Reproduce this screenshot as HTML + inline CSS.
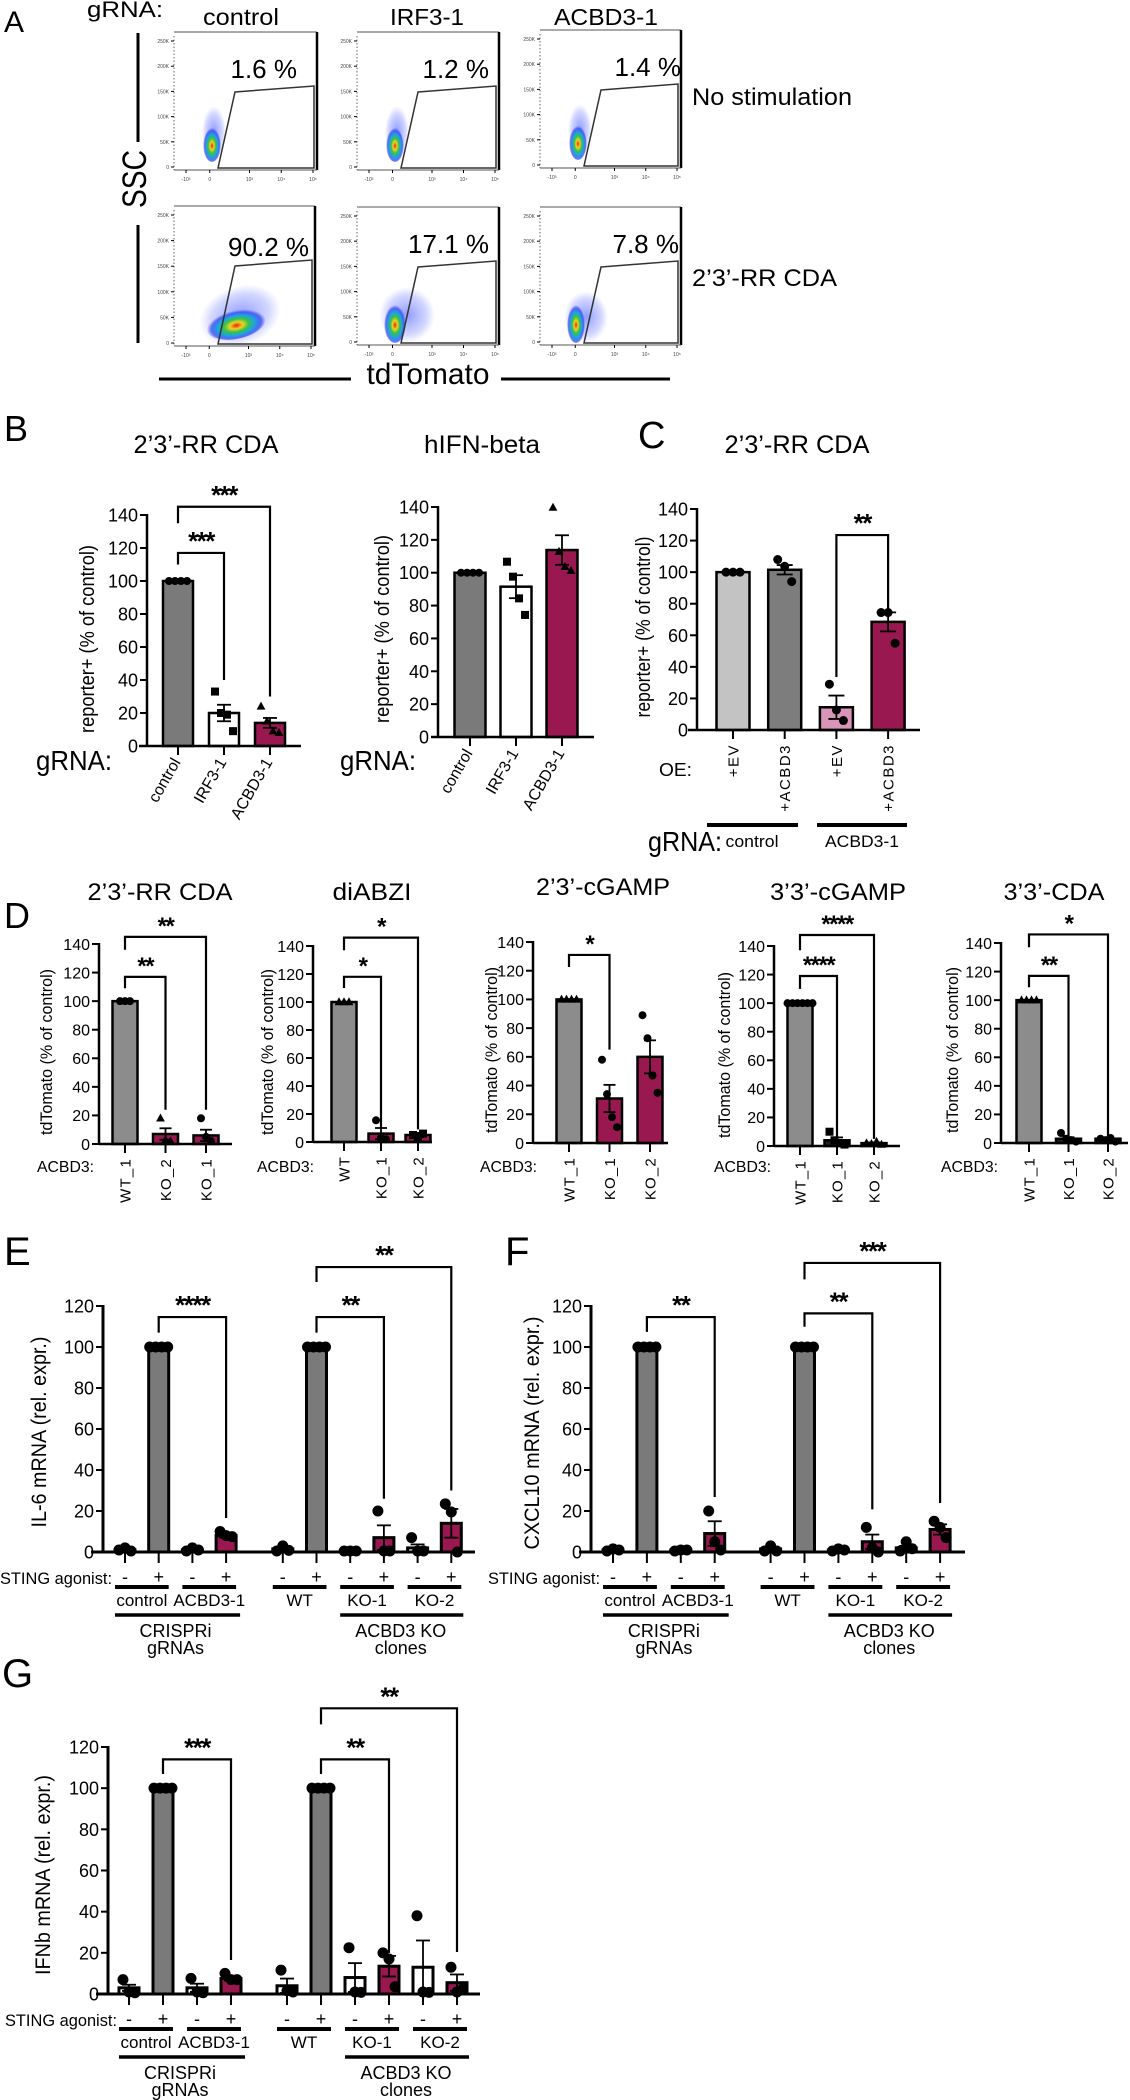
<!DOCTYPE html>
<html><head><meta charset="utf-8">
<style>
html,body{margin:0;padding:0;background:#fff;}
svg{display:block;font-family:"Liberation Sans",Arial,sans-serif;}
</style></head>
<body>
<svg id="fig" xmlns="http://www.w3.org/2000/svg" width="1130" height="2100" viewBox="0 0 1130 2100">
<defs>
<radialGradient id="dens" cx="50%" cy="55%" r="50%">
<stop offset="0" stop-color="#e8221c"/>
<stop offset="0.22" stop-color="#f2d21e"/>
<stop offset="0.42" stop-color="#38c24a"/>
<stop offset="0.65" stop-color="#1ea0e6"/>
<stop offset="0.85" stop-color="#2a3cf0" stop-opacity="0.7"/>
<stop offset="1" stop-color="#3040ff" stop-opacity="0"/>
</radialGradient>
<radialGradient id="halo" cx="50%" cy="50%" r="50%">
<stop offset="0" stop-color="#3348ff" stop-opacity="0.55"/>
<stop offset="0.7" stop-color="#4a5cff" stop-opacity="0.25"/>
<stop offset="1" stop-color="#6070ff" stop-opacity="0"/>
</radialGradient>
</defs>
</svg>
<script>
// ---------------- DATA ----------------
const yTicks140=[0,20,40,60,80,100,120,140];
const yTicks120=[0,20,40,60,80,100,120];

const b1Categories=['control','IRF3-1','ACBD3-1'];
const b1Means=[100,20,14];
const b1Sem=[0,5,3];
const b1Points=[[100,100,100,100],[33,20,19,9],[24,15,9,8]];

const b2Categories=['control','IRF3-1','ACBD3-1'];
const b2Means=[100,91.5,113.8];
const b2Sem=[0,7,9];
const b2Points=[[100,100,100,100],[106.7,97.6,84.4,74.3],[139.7,112.8,103.6,101.2]];

const cCategories=['+EV','+ACBD3','+EV','+ACBD3'];
const cMeans=[100,101.5,14.4,68.5];
const cSem=[0,3,7.4,6];
const cPoints=[[100,100,100],[108,103.7,94],[29,12.7,6],[74.4,74.4,55]];

const d1Categories=['WT_1','KO_2','KO_1'];
const d1Means=[100,7,6];
const d1Sem=[0,4,4];
const d1Points=[[100,100,100],[18,3,2],[18,5,2]];

const d2Categories=['WT','KO_1','KO_2'];
const d2Means=[100,6,5];
const d2Sem=[0,4,1.5];
const d2Points=[[100,100,100],[15.5,3,2],[5,3.6,6]];

const d3Categories=['WT_1','KO_1','KO_2'];
const d3Means=[100,31,60];
const d3Sem=[0,9.5,11.5];
const d3Points=[[100,100,100,100],[58,34,18,11],[89,73,47,35]];

const d4Categories=['WT_1','KO_1','KO_2'];
const d4Means=[100,4,2];
const d4Sem=[0,2,0.5];
const d4Points=[[100,100,100,100,100,100],[10,4,2,1],[2,1.5,3,1]];

const d5Categories=['WT_1','KO_1','KO_2'];
const d5Means=[100,3,3];
const d5Sem=[0,1,0.5];
const d5Points=[[100,100,100,100],[7,3,2,1],[3,2,3.5,1]];

const qSigns=['-','+','-','+','-','+','-','+','-','+'];
const qGroups=['control','ACBD3-1','WT','KO-1','KO-2'];

const eMeans=[1,100,1,8,1.5,100,0.5,7,2,14];
const eSem=[0.5,0,0.5,1,1,0,0,6,1.7,7];
const ePoints=[[1,2,0.5],[100,100,100,100],[0.5,2,1],[10,8,7.5],[0.5,3,0.8],[100,100,100,100],[0.5,0.5,0.5],[20,0.5,0.5],[7,0.5,0.5],[23.5,19.5,0]];

const fMeans=[1,100,1,9,1.5,100,1,5,2,11];
const fSem=[0.3,0,0.3,6,1,0,0.3,3.5,1,2.5];
const fPoints=[[0.5,1.5,1],[100,100,100,100],[0.5,1,1],[20,5,1],[0.5,3,0.5],[100,100,100,100],[0.5,1.5,1],[12,2,0],[0.5,5,1.6],[15,12,7]];

const gMeans=[3,100,3,7.5,4,100,8,13.5,13,5.5];
const gSem=[1.5,0,2,1,3.5,0,7,5,13,4];
const gPoints=[[7,1,0.6],[100,100,100,100],[7.6,1,0.6],[10,7,7],[11.6,1.6,1],[100,100,100,100],[22.5,1,0.8],[20,17,3.5],[38,1,0.8],[13,1,2.5]];

// ---------------- HELPERS ----------------
const NS='http://www.w3.org/2000/svg';
const svg=document.getElementById('fig');
function mk(tag,attrs,name,parent){
  const el=document.createElementNS(NS,tag);
  for(const k in attrs) el.setAttribute(k,attrs[k]);
  
  
  (parent||svg).appendChild(el);
  return el;
}
function txt(x,y,s,size,name,opts,parent){
  opts=opts||{};
  const a={x:x,y:y,'font-size':size,fill:opts.fill||'#000'};
  if(opts.anchor) a['text-anchor']=opts.anchor;
  if(opts.weight) a['font-weight']=opts.weight;
  if(opts.len){a.textLength=opts.len;a.lengthAdjust='spacingAndGlyphs';}
  if(opts.rot!==undefined) a.transform='rotate('+opts.rot+' '+x+' '+y+')';
  if(opts.ls) a['letter-spacing']=opts.ls;
  const t=mk('text',a,name,parent);
  t.textContent=s;
  return t;
}
function line(x1,y1,x2,y2,w,name,parent,color){
  return mk('line',{x1:x1,y1:y1,x2:x2,y2:y2,stroke:color||'#000','stroke-width':w},name,parent);
}
function marker(type,x,y,r,name,parent){
  if(type==='sq') return mk('rect',{x:x-r,y:y-r,width:2*r,height:2*r,fill:'#000'},name,parent);
  if(type==='tri') return mk('polygon',{points:(x)+','+(y-r*1.2)+' '+(x-r*1.1)+','+(y+r*0.8)+' '+(x+r*1.1)+','+(y+r*0.8),fill:'#000'},name,parent);
  return mk('circle',{cx:x,cy:y,r:r,fill:'#000'},name,parent);
}

function barChart(c){
  const g=mk('g',{},c.name);
  const k=(c.y0-c.yTop)/c.yMax;
  const Y=v=>c.y0-v*k;
  const X=i=>c.xStart+i*c.step+(c.gapAfter!==undefined&&i>c.gapAfter?c.gap:0);
  // bars
  c.means.forEach((m,i)=>{
    const x=X(i);
    mk('rect',{x:x-c.barW/2,y:Y(m),width:c.barW,height:c.y0-Y(m),fill:c.colors[i],stroke:'#000','stroke-width':c.sw||2.5},'bar-'+c.cats[i].toLowerCase().replace(/[^a-z0-9]+/g,'-'),g);
  });
  // error bars
  c.means.forEach((m,i)=>{
    if(!c.sem[i]) return;
    const x=X(i);
    line(x,Y(m-c.sem[i]),x,Y(m+c.sem[i]),1.8,'error-bar',g);
    line(x-c.cap,Y(m+c.sem[i]),x+c.cap,Y(m+c.sem[i]),1.8,'error-cap',g);
    line(x-c.cap,Y(m-c.sem[i]),x+c.cap,Y(m-c.sem[i]),1.8,'error-cap',g);
  });
  // points
  c.points.forEach((arr,i)=>{
    const x=X(i);
    const n=arr.length;
    arr.forEach((v,j)=>{
      const px=x+(j-(n-1)/2)*c.jit;
      marker(c.markers?c.markers[i]:'c',px,Y(v),c.pr,'data-point',g);
    });
  });
  // axes
  line(c.axisX,c.y0+1,c.axisX,Y(c.yMax)-1,c.aw||2.5,'y-axis',g);
  line(c.axisX-(c.xLeft||0),c.y0,c.xEnd,c.y0,c.aw||2.5,'x-axis',g);
  c.ticks.forEach(t=>{
    line(c.axisX-7,Y(t),c.axisX,Y(t),2,'y-tick',g);
    txt(c.axisX-9,Y(t)+c.tf*0.36,String(t),c.tf,'y-tick-label',{anchor:'end'},g);
  });
  c.means.forEach((m,i)=>{ line(X(i),c.y0,X(i),c.y0+(c.tl||9),2,'x-tick',g); });
  // category labels
  if(c.labelMode==='rot60'){
    c.cats.forEach((s,i)=>txt(X(i)+3,c.y0+16,s,c.lf,'x-tick-label',{anchor:'end',rot:-60},g));
  } else if(c.labelMode==='rot90'){
    c.cats.forEach((s,i)=>txt(X(i)+c.lf*0.36,c.y0+14,s,c.lf,'x-tick-label',{anchor:'end',rot:-90,ls:c.ls||1},g));
  }
  // brackets
  (c.brackets||[]).forEach(b=>{
    const xa=X(b[0]), xb=X(b[1]);
    mk('polyline',{points:xa+','+Y(b[3])+' '+xa+','+Y(b[2])+' '+xb+','+Y(b[2])+' '+xb+','+Y(b[4]),fill:'none',stroke:'#000','stroke-width':2.2},'significance-bracket',g);
    txt((xa+xb)/2,Y(b[2])-3,b[5],c.sf||26,'significance-stars',{anchor:'middle',weight:'bold',ls:-1.5},g);
  });
  // y title
  if(c.ytitle) txt(c.ytX,c.ytY,c.ytitle,c.ytF,'y-axis-title',{anchor:'middle',rot:-90,len:c.ytLen},g);
  c.X=X; c.Y=Y; c.g=g;
  return c;
}

// ---------------- PANEL A ----------------
txt(4,32,'A',30,'panel-label-a');
txt(87,17,'gRNA:',22,'grna-label-a',{len:76});
txt(241,25,'control',23,'column-title-control',{anchor:'middle',len:76});
txt(427,25,'IRF3-1',23,'column-title-irf3',{anchor:'middle',len:74});
txt(606,25,'ACBD3-1',23,'column-title-acbd3',{anchor:'middle',len:104});
txt(692,105,'No stimulation',24,'row-label-no-stim',{len:160});
txt(692,286,'2\u20193\u2019-RR CDA',24,'row-label-rr-cda',{len:145});
line(138,33,138,142,3,'ssc-axis-line-top');
txt(146,179,'SSC',34,'ssc-axis-title',{anchor:'middle',rot:-90,len:58});
line(138,225,138,343,3,'ssc-axis-line-bottom');
txt(428,384,'tdTomato',30,'tdtomato-axis-title',{anchor:'middle',len:123});
line(159,379,351,379,3,'tdtomato-line-left');
line(501,379,670,379,3,'tdtomato-line-right');

const flowBoxes=[
 {l:174,t:32,r:317,b:170,pct:'1.6 %',pe:297,type:'low'},
 {l:357,t:32,r:499,b:170,pct:'1.2 %',pe:489,type:'low'},
 {l:540,t:30,r:681,b:168,pct:'1.4 %',pe:681,type:'low'},
 {l:174,t:206,r:315,b:346,pct:'90.2 %',pe:309,type:'high'},
 {l:357,t:207,r:499,b:345,pct:'17.1 %',pe:489,type:'mid'},
 {l:540,t:207,r:681,b:345,pct:'7.8 %',pe:679,type:'midlow'}
];
const yLabs=['0','50K','100K','150K','200K','250K'];
const xLabs=['-10\u00b3','0','10\u00b3','10\u2074','10\u2075'];
flowBoxes.forEach((f,i)=>{
  const g=mk('g',{},'flow-plot-'+(i+1));
  const w=f.r-f.l,h=f.b-f.t;
  // density
  if(f.type==='high'){
    mk('ellipse',{cx:f.l+66,cy:f.t+110,rx:42,ry:30,fill:'url(#halo)',transform:'rotate(-20 '+(f.l+66)+' '+(f.t+110)+')'},'cell-population-halo',g);
    mk('ellipse',{cx:f.l+62,cy:f.t+118,rx:30,ry:15,fill:'url(#dens)',transform:'rotate(-12 '+(f.l+62)+' '+(f.t+118)+')'},'cell-population',g);
  } else if(f.type==='mid'){
    mk('ellipse',{cx:f.l+50,cy:f.t+108,rx:28,ry:28,fill:'url(#halo)'},'cell-population-halo',g);
    mk('ellipse',{cx:f.l+38,cy:f.t+116,rx:11,ry:20,fill:'url(#dens)'},'cell-population',g);
  } else if(f.type==='midlow'){
    mk('ellipse',{cx:f.l+46,cy:f.t+110,rx:22,ry:26,fill:'url(#halo)'},'cell-population-halo',g);
    mk('ellipse',{cx:f.l+36,cy:f.t+116,rx:9,ry:20,fill:'url(#dens)'},'cell-population',g);
  } else {
    mk('ellipse',{cx:f.l+40,cy:f.t+100,rx:12,ry:26,fill:'url(#halo)'},'cell-population-halo',g);
    mk('ellipse',{cx:f.l+38,cy:f.t+112,rx:9,ry:18,fill:'url(#dens)'},'cell-population',g);
  }
  // frame
  line(f.l,f.t,f.r,f.t,1.2,'plot-frame-top',g,'#777');
  line(f.r,f.t,f.r,f.b,2.5,'plot-frame-right',g);
  line(f.l,f.b,f.r,f.b,1,'x-axis',g,'#555');
  line(f.l,f.t+4,f.l,f.b,1,'y-axis',g,'#666').setAttribute('stroke-dasharray','1.5 2');
  yLabs.forEach((s,j)=>{
    const yy=f.b-3-j*(h-12)/5;
    line(f.l-3,yy,f.l,yy,1,'y-tick',g);
    txt(f.l-5,yy+2,s,5,'y-tick-label',{anchor:'end',fill:'#444'},g);
  });
  xLabs.forEach((s,j)=>{
    const xx=f.l+12+j*(w-16)/4+(j===1?-8:0);
    line(xx,f.b,xx,f.b+3,1,'x-tick',g);
    txt(xx,f.b+11,s,5,'x-tick-label',{anchor:'middle',fill:'#444'},g);
  });
  // gate
  mk('polygon',{points:(f.l+61)+','+(f.t+60)+' '+(f.r-3)+','+(f.t+54)+' '+(f.r-3)+','+(f.b-2)+' '+(f.l+44)+','+(f.b-2),fill:'none',stroke:'#333','stroke-width':1.5},'gate',g);
  txt(f.pe,f.t+(f.type==='high'?50:46),f.pct,26,'gate-percentage',{anchor:'end'},g);
});

// ---------------- PANEL B ----------------
txt(4,441,'B',36,'panel-label-b');
txt(206,453,'2\u20193\u2019-RR CDA',25,'b1-title',{anchor:'middle',len:145});
txt(482,453,'hIFN-beta',25,'b2-title',{anchor:'middle',len:116});
txt(36,770,'gRNA:',28,'b1-grna-label',{len:76});
txt(340,770,'gRNA:',28,'b2-grna-label',{len:76});
barChart({name:'chart-b1',cats:b1Categories,means:b1Means,sem:b1Sem,points:b1Points,
  markers:['c','sq','tri'],colors:['#7a7a7a','#ffffff','#98184f'],
  axisX:147,y0:746,yTop:515,yMax:140,ticks:yTicks140,xStart:178,step:46,barW:30,xEnd:301,xLeft:8,
  cap:7,jit:6,pr:4,tf:18,lf:16,labelMode:'rot60',
  brackets:[[0,1,117,110,40,'***'],[0,2,145,135,30,'***']],
  ytitle:'reporter+ (% of control)',ytX:94,ytY:639,ytF:20,ytLen:188});
barChart({name:'chart-b2',cats:b2Categories,means:b2Means,sem:b2Sem,points:b2Points,
  markers:['c','sq','tri'],colors:['#7a7a7a','#ffffff','#98184f'],
  axisX:438,y0:737,yTop:507,yMax:140,ticks:yTicks140,xStart:470,step:46,barW:31,xEnd:594,xLeft:7,
  cap:7,jit:6,pr:4,tf:18,lf:16,labelMode:'rot60',brackets:[],
  ytitle:'reporter+ (% of control)',ytX:389,ytY:629,ytF:20,ytLen:188});

// ---------------- PANEL C ----------------
txt(638,448,'C',38,'panel-label-c');
txt(797,453,'2\u20193\u2019-RR CDA',25,'c-title',{anchor:'middle',len:145});
barChart({name:'chart-c',cats:cCategories,means:cMeans,sem:cSem,points:cPoints,
  colors:['#c3c3c3','#7d7d7d','#d895b8','#98184f'],
  axisX:697,y0:730,yTop:509,yMax:140,ticks:yTicks140,xStart:733,step:51.7,barW:33,xEnd:920,xLeft:9,
  cap:8,jit:7,pr:4.5,tf:18,lf:15,ls:1.5,labelMode:'rot90',
  brackets:[[2,3,123.5,33.6,77,'**']],
  ytitle:'reporter+ (% of control)',ytX:650,ytY:627,ytF:20,ytLen:181});
txt(659,776,'OE:',18,'c-oe-label',{len:33});
line(707,825,798,825,4,'c-group-line-control');
line(817,825,907,825,4,'c-group-line-acbd3');
txt(648,851,'gRNA:',28,'c-grna-label',{len:74});
txt(752,847,'control',17,'c-group-label-control',{anchor:'middle',len:53});
txt(862,847,'ACBD3-1',17,'c-group-label-acbd3',{anchor:'middle',len:74});

// ---------------- PANEL D ----------------
txt(4,928,'D',36,'panel-label-d');
const dTitles=[['2\u20193\u2019-RR CDA',160,900,145],['diABZI',372,900,79],['2\u20193\u2019-cGAMP',603,895,134],['3\u20193\u2019-cGAMP',838,900,136],['3\u20193\u2019-CDA',1054,900,101]];
dTitles.forEach((t,i)=>txt(t[1],t[2],t[0],24,'d-title-'+(i+1),{anchor:'middle',len:t[3]}));
const dCommon={yMax:140,ticks:yTicks140,barW:25,cap:6,jit:5,pr:4,tf:16,lf:15,ls:1.2,labelMode:'rot90',xLeft:0,
  colors:['#8c8c8c','#98184f','#98184f'],ytitle:'tdTomato (% of control)',ytF:17,ytLen:166,sf:24};
function dChart(o){return barChart(Object.assign({},dCommon,o));}
dChart({name:'chart-d1',cats:d1Categories,means:d1Means,sem:d1Sem,points:d1Points,markers:['c','tri','c'],
  axisX:99,y0:1144,yTop:944,xStart:125,step:40.5,xEnd:232,brackets:[[0,1,117,109,24,'**'],[0,2,145,136,24,'**']],ytX:52,ytY:1052});
dChart({name:'chart-d2',cats:d2Categories,means:d2Means,sem:d2Sem,points:d2Points,markers:['tri','c','sq'],
  axisX:313,y0:1142,yTop:946,xStart:344,step:37,xEnd:432,brackets:[[0,1,118,110,10,'*'],[0,2,146,137,9,'*']],ytX:273,ytY:1052});
dChart({name:'chart-d3',cats:d3Categories,means:d3Means,sem:d3Sem,points:d3Points,markers:['tri','c','c'],
  axisX:533,y0:1143,yTop:942,xStart:569,step:40.5,xEnd:668,brackets:[[0,1,131,122.6,65,'*']],ytX:497,ytY:1050});
dChart({name:'chart-d4',cats:d4Categories,means:d4Means,sem:d4Sem,points:d4Points,markers:['c','sq','tri'],colors:['#8c8c8c','#222','#222'],
  axisX:774,y0:1146,yTop:946,xStart:800,step:37,xEnd:900,brackets:[[0,1,119,110,6,'****'],[0,2,147.7,137,5,'****']],ytX:730,ytY:1055});
dChart({name:'chart-d5',cats:d5Categories,means:d5Means,sem:d5Sem,points:d5Points,markers:['tri','c','c'],colors:['#8c8c8c','#222','#222'],
  axisX:1001,y0:1143,yTop:943,xStart:1029,step:39.5,xEnd:1128,brackets:[[0,1,117,109,4,'**'],[0,2,146,137,4,'*']],ytX:958,ytY:1050});
[[37,'d1'],[257,'d2'],[480,'d3'],[714,'d4'],[941,'d5']].forEach(a=>txt(a[0],1172,'ACBD3:',16,a[1]+'-acbd3-label',{len:57}));

// ---------------- PANELS E, F, G ----------------
function qpcr(o){
  const colors=['#fff','#7a7a7a','#fff','#98184f','#fff','#7a7a7a','#fff','#98184f','#fff','#98184f'];
  const c=barChart(Object.assign({cats:qSigns.map((s,i)=>'cond-'+i+(s==='+'?'-plus':'-minus')),colors:colors,yMax:120,ticks:yTicks120,
    barW:20,cap:7,jit:6,pr:5.5,tf:18,labelMode:'none',aw:3,sw:3,xLeft:12,ytF:21,sf:26,tl:11},o));
  const g=c.g, y0=c.y0;
  txt(c.axisX-103+(o.stingDx||0),y0+32,'STING agonist:',17,'sting-agonist-label',{len:112},g);
  qSigns.forEach((s,i)=>txt(c.X(i),y0+31,s,18,'sting-sign',{anchor:'middle'},g));
  qGroups.forEach((s,k)=>{
    const xa=c.X(2*k)-10, xb=c.X(2*k+1)+10;
    line(xa,y0+35,xb,y0+35,4,'group-underline',g);
    txt((xa+xb)/2,y0+54,s,17,'group-label-'+s.toLowerCase(),{anchor:'middle'},g);
  });
  line(c.X(0)-10,y0+63,c.X(3)+14,y0+63,3.5,'crispri-line',g);
  line(c.X(6)-10,y0+63,c.X(9)+12,y0+63,3.5,'ko-clones-line',g);
  const m1=(c.X(0)+c.X(3))/2, m2=(c.X(6)+c.X(9))/2;
  txt(m1,y0+85,'CRISPRi',18,'crispri-label',{anchor:'middle'},g);
  txt(m1,y0+102,'gRNAs',18,'grnas-label',{anchor:'middle'},g);
  txt(m2,y0+85,'ACBD3 KO',18,'acbd3-ko-label',{anchor:'middle'},g);
  txt(m2,y0+102,'clones',18,'clones-label',{anchor:'middle'},g);
  return c;
}
txt(4,1265,'E',40,'panel-label-e');
txt(505,1265,'F',40,'panel-label-f');
txt(2,1687,'G',40,'panel-label-g');
qpcr({name:'chart-e',means:eMeans,sem:eSem,points:ePoints,axisX:103,y0:1552,yTop:1306,xStart:125,step:33.7,gapAfter:3,gap:23,xEnd:475,
  brackets:[[1,3,114.6,107,16.6,'****'],[5,7,114.6,107,26,'**'],[5,9,139,131.7,30,'**']],
  ytitle:'IL-6 mRNA (rel. expr.)',ytX:46,ytY:1432,ytLen:191});
qpcr({name:'chart-f',means:fMeans,sem:fSem,points:fPoints,axisX:591,y0:1552,yTop:1306,xStart:613,step:33.9,gapAfter:3,gap:22,xEnd:965,
  brackets:[[1,3,114.6,107.4,26.8,'**'],[5,7,116.4,109.9,20.8,'**'],[5,9,141,133,23.9,'***']],
  ytitle:'CXCL10 mRNA (rel. expr.)',ytX:539,ytY:1433,ytLen:233});
qpcr({name:'chart-g',means:gMeans,sem:gSem,points:gPoints,axisX:108,y0:1994,yTop:1747,xStart:129,step:34,gapAfter:3,gap:22,xEnd:480,stingDx:0,
  brackets:[[1,3,114,106.9,16.5,'***'],[5,7,114,106.9,20,'**'],[5,9,138.8,131,20.4,'**']],
  ytitle:'IFNb mRNA (rel. expr.)',ytX:50,ytY:1875,ytLen:200});
</script>
</body></html>
